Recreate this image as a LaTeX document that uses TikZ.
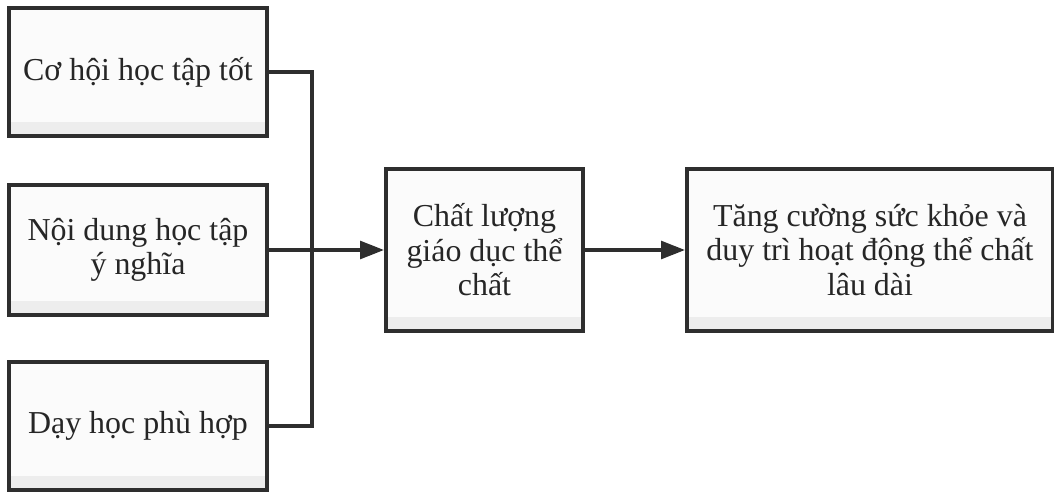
\documentclass[tikz,border=0pt]{standalone}
\usepackage{fontspec}
\setmainfont{Liberation Serif}
\usetikzlibrary{arrows.meta}
\tikzset{
  hopbox/.style={rectangle, draw=black!82, line width=2.7pt, fill=gray!3, align=center,
    font=\fontsize{22.7}{24.5}\selectfont, text=black!85,
    path picture={\fill[gray!14] (path picture bounding box.south west)
      rectangle ([yshift=0.35cm]path picture bounding box.south east);}},
  leftbox/.style={hopbox, minimum width=6.45cm, minimum height=3.2cm},
  midbox/.style={hopbox, minimum width=4.925cm, minimum height=4.05cm},
  noi/.style={draw=black!82, line width=2.7pt},
  muiten/.style={noi, -{Triangle[length=17pt,width=12.5pt]}}
}
\begin{document}
\begin{tikzpicture}[x=0.025cm,y=-0.025cm]
\useasboundingbox (0,0) rectangle (1054,493);
% three causes on the left
\node[leftbox] (coHoi) at (138,72) {Cơ hội học tập tốt};
\node[leftbox, minimum height=3.25cm] (noiDung) at (138,250) {Nội dung học tập\\ý nghĩa};
\node[leftbox] (dayHoc) at (138,426) {Dạy học phù hợp};
% middle and result
\node[midbox] (chatLuong) at (484.5,250) {Chất lượng\\giáo dục thể\\chất};
\node[hopbox, minimum width=9.15cm, minimum height=4.05cm] (ketQua) at (870,250)
  {Tăng cường sức khỏe và\\duy trì hoạt động thể chất\\lâu dài};
\coordinate (bus) at (312,250);
\draw[noi] (coHoi.east) -| (bus) |- (dayHoc.east);
\draw[muiten] (noiDung.east) -- (chatLuong.west);
\draw[muiten] (chatLuong.east) -- (ketQua.west);
\end{tikzpicture}
\end{document}
